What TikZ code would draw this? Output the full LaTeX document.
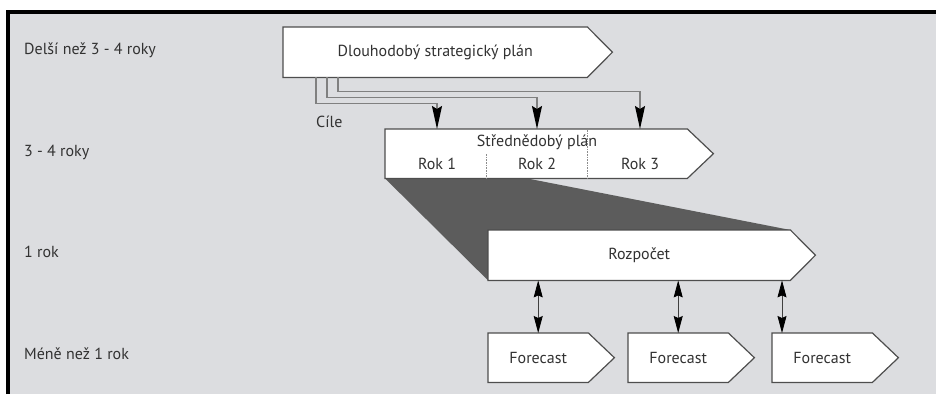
\documentclass[tikz,border=0pt]{standalone}
\usepackage{fontspec}
\setmainfont{PT Sans}
\usetikzlibrary{arrows.meta,calc}
\pgfdeclarelayer{back}
\pgfdeclarelayer{bg}
\pgfsetlayers{back,bg,main}
\definecolor{bgc}{RGB}{220,221,224}
\definecolor{edge}{RGB}{78,78,78}
\definecolor{funnelc}{RGB}{92,92,92}
\definecolor{connc}{RGB}{128,128,128}
\definecolor{txt}{RGB}{50,50,50}
\def\drawpent#1#2{\fill[pent] (#1.north west) -- (#1.north east) -- ($(#1.east)+(#2,0)$) -- (#1.south east) -- (#1.south west) -- cycle;}
\begin{document}
\begin{tikzpicture}[x=1pt,y=-1pt,
  lbl/.style={inner sep=0pt,text=txt,font=\fontsize{16}{19}\selectfont},
  body/.style={lbl,rectangle,minimum height=50pt},
  rowlabel/.style={lbl,anchor=west},
  pent/.style={fill=white,draw=edge,line width=1.2pt,line join=miter},
  conn/.style={draw=connc,line width=1.4pt,-{Stealth[length=23pt,width=10pt,inset=3pt,black]}},
  dbl/.style={draw=black!75,line width=0.8pt,{Stealth[length=17pt,width=9pt,inset=2pt,black]}-{Stealth[length=17pt,width=9pt,inset=2pt,black]}},
  divider/.style={draw=black!45,line width=0.6pt,densely dotted}]
\useasboundingbox (0,0) rectangle (936,394);
\begin{pgfonlayer}{back}
\fill[bgc] (6,10) rectangle (936,394);
\draw[black,line width=3.5pt,line join=miter] (7.75,394) -- (7.75,11.75) -- (936,11.75);
\end{pgfonlayer}

% row labels
\node[rowlabel] (r1) at (24,50) {Delší než 3 - 4 roky};
\node[rowlabel] (r2) at (24,152) {3 - 4 roky};
\node[rowlabel] (r3) at (24,252) {1 rok};
\node[rowlabel] (r4) at (24,354) {Méně než 1 rok};

% boxes
\node[body,minimum width=304pt,anchor=north west] (lt) at (283,27) {Dlouhodobý strategický plán};
\node[body,minimum width=302pt,minimum height=49pt,anchor=north west] (mid) at (385,129) {};
\node[lbl] (midt) at (537,142) {Střednědobý plán};
\node[lbl] (rok1) at (437,164) {Rok 1};
\node[lbl] (rok2) at (537,164) {Rok 2};
\node[lbl] (rok3) at (640,164) {Rok 3};
\node[body,minimum width=302pt,anchor=north west] (rb) at (488,230) {Rozpočet};
\node[body,minimum width=100pt,minimum height=49pt,anchor=north west] (fc1) at (488,333) {Forecast};
\node[body,minimum width=100pt,minimum height=49pt,anchor=north west] (fc2) at (628,333) {Forecast};
\node[body,minimum width=100pt,minimum height=49pt,anchor=north west] (fc3) at (772,333) {Forecast};
\node[lbl,anchor=west] (cile) at (316,122) {Cíle};

\begin{pgfonlayer}{bg}
  \fill[funnelc] (mid.south west) -- ([xshift=142pt]mid.south west) -- (rb.north east) -- (rb.south west) -- cycle;
  \drawpent{lt}{25}
  \drawpent{mid}{26}
  \drawpent{rb}{25}
  \drawpent{fc1}{26}
  \drawpent{fc2}{26}
  \drawpent{fc3}{26}
\end{pgfonlayer}

% dividers in medium-term plan
\draw[divider] (mid.south -| 486,0) -- (486,153);
\draw[divider] (mid.south -| 587,0) -- (mid.north -| 587,0);

% goal connectors
\draw[conn] ([xshift=33pt]lt.south west) -- ++(0,26) -| (rok1 |- mid.north);
\draw[conn] ([xshift=44pt]lt.south west) -- ++(0,20) -| (rok2 |- mid.north);
\draw[conn] ([xshift=55pt]lt.south west) -- ++(0,14) -| (rok3 |- mid.north);

% budget <-> forecasts
\draw[dbl] (fc1.north |- rb.south) -- (fc1.north);
\draw[dbl] (fc2.north |- rb.south) -- (fc2.north);
\draw[dbl] ([xshift=10pt]fc3.north west |- rb.south) -- ([xshift=10pt]fc3.north west);
\end{tikzpicture}
\end{document}
